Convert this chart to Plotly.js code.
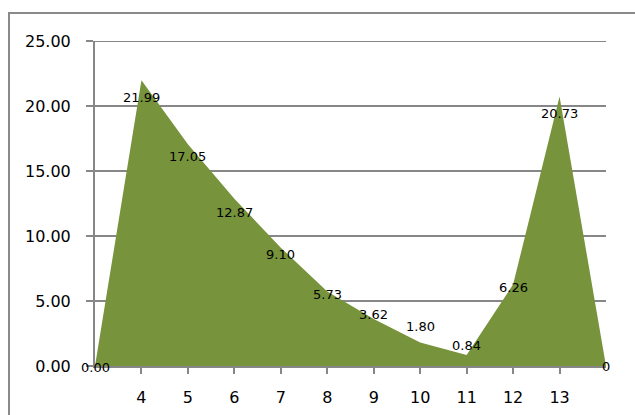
<!DOCTYPE html>
<html>
<head>
<meta charset="utf-8">
<script src="https://cdn.plot.ly/plotly-3.0.1.min.js"></script>
<style>
  html, body { margin: 0; padding: 0; background: #fff; }
  #wrap { position: relative; width: 635px; height: 415px; overflow: hidden; }
  #frame { position: absolute; left: 8px; top: 12px; width: 700px; height: 500px;
           border-left: 2px solid #8a8a8a; border-top: 2px solid #8a8a8a; }
  #chart { position: absolute; left: 0; top: 0; width: 635px; height: 415px; }
</style>
</head>
<body>
<div id="wrap">
  <div id="frame"></div>
  <div id="chart"></div>
</div>
<script>
// Data
const categories = ['', '4', '5', '6', '7', '8', '9', '10', '11', '12', '13', ''];
const values = [0, 21.99, 17.05, 12.87, 9.10, 5.73, 3.62, 1.80, 0.84, 6.26, 20.73, 0];
const valueLabels = ['0.00', '21.99', '17.05', '12.87', '9.10', '5.73', '3.62', '1.80', '0.84', '6.26', '20.73', '0'];
const yTicks = [0, 5, 10, 15, 20, 25];

// Label nudges (pixels, positive = up) to mimic the original label placement
const labelNudge = [-1, -17, -12, -14, -7, -3, 4, 16, 10, -3, -17, 0];

const xIdx = categories.map((c, i) => i);
const tickvals = xIdx.filter(i => categories[i] !== '');
const ticktext = tickvals.map(i => categories[i]);
const yMax = yTicks[yTicks.length - 1];

const grey = '#878787';

const trace = {
  x: xIdx,
  y: values,
  type: 'scatter',
  mode: 'lines',
  fill: 'tozeroy',
  fillcolor: '#77933C',
  line: { width: 0, color: '#77933C' },
  hoverinfo: 'skip'
};

const annotations = xIdx.map(i => ({
  x: i, y: values[i], xref: 'x', yref: 'y',
  text: valueLabels[i], showarrow: false,
  xanchor: 'center', yanchor: 'middle',
  yshift: labelNudge[i],
  font: { family: 'DejaVu Sans', size: 13, color: '#000' }
}));

const layout = {
  width: 635, height: 415,
  margin: { l: 95, r: 29, t: 41, b: 49, pad: 0 },
  paper_bgcolor: 'rgba(0,0,0,0)',
  plot_bgcolor: 'rgba(0,0,0,0)',
  showlegend: false,
  xaxis: {
    range: [0, categories.length - 1],
    tickvals: tickvals, ticktext: ticktext,
    ticks: 'outside', ticklen: 6, tickwidth: 2, tickcolor: grey,
    showline: true, linecolor: grey, linewidth: 2,
    showgrid: false, zeroline: false,
    ticklabelstandoff: 10,
    tickfont: { family: 'DejaVu Sans', size: 16, color: '#000' },
    fixedrange: true
  },
  yaxis: {
    range: [0, yMax],
    tickvals: yTicks, tickformat: '.2f',
    ticks: 'outside', ticklen: 7, tickwidth: 2, tickcolor: grey,
    showline: true, linecolor: grey, linewidth: 2,
    showgrid: true, gridcolor: grey, gridwidth: 2,
    zeroline: false,
    ticklabelstandoff: 12,
    tickfont: { family: 'DejaVu Sans', size: 16, color: '#000' },
    fixedrange: true
  },
  shapes: [{
    type: 'line', xref: 'paper', yref: 'y',
    x0: 0, x1: 1, y0: yMax, y1: yMax,
    line: { color: grey, width: 2 }, layer: 'below'
  }],
  annotations: annotations
};

Plotly.newPlot('chart', [trace], layout, { displayModeBar: false, staticPlot: true });
</script>
</body>
</html>
